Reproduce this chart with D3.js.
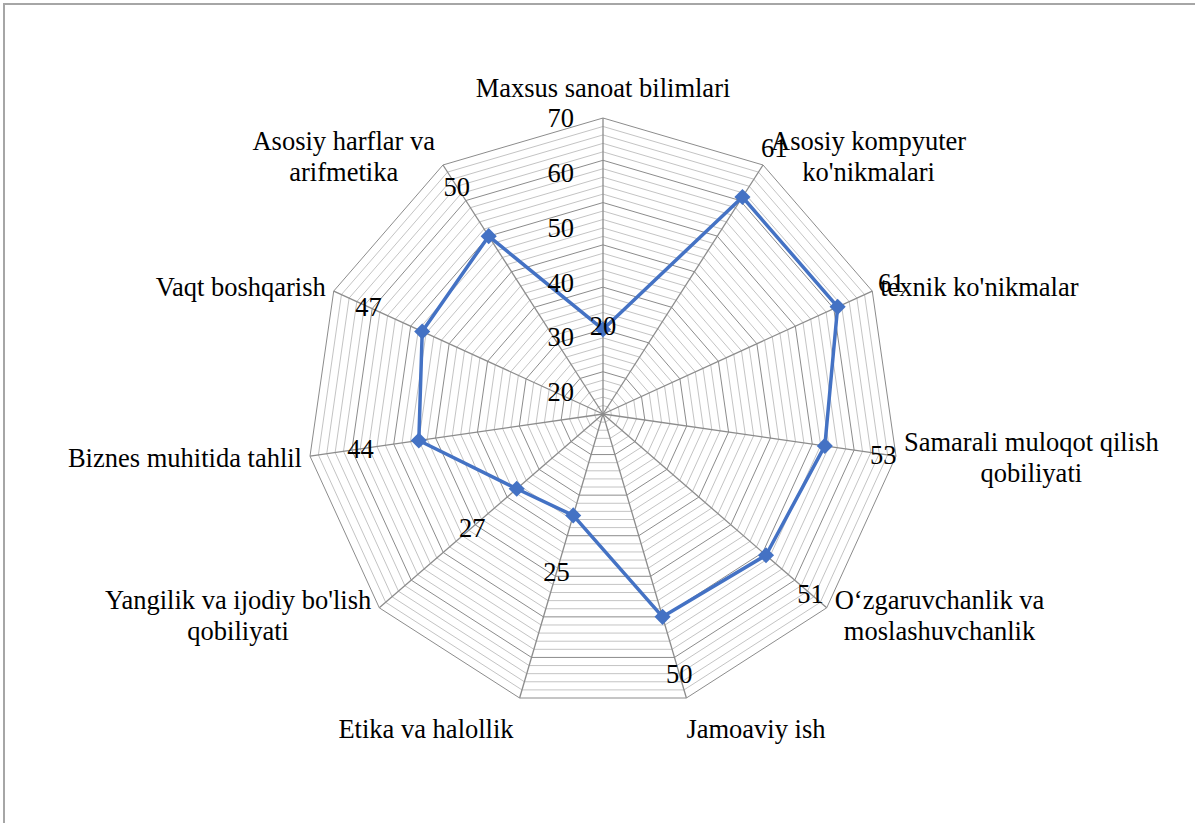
<!DOCTYPE html>
<html>
<head>
<meta charset="utf-8">
<script src="https://cdn.jsdelivr.net/npm/d3@7"></script>
<style>
  html, body { margin: 0; padding: 0; background: #fff; }
</style>
</head>
<body>
<div id="chart"></div>
<script>
// categories go clockwise from the top
const categories = [
    'Maxsus sanoat bilimlari',
    'Asosiy kompyuter\nko\'nikmalari',
    'texnik ko\'nikmalar',
    'Samarali muloqot qilish\nqobiliyati',
    'O‘zgaruvchanlik va\nmoslashuvchanlik',
    'Jamoaviy ish',
    'Etika va halollik',
    'Yangilik va ijodiy bo\'lish\nqobiliyati',
    'Biznes muhitida tahlil',
    'Vaqt boshqarish',
    'Asosiy harflar va\narifmetika'
];
const values = [20, 61, 61, 53, 51, 50, 25, 27, 44, 47, 50];
const tickValues = [20, 30, 40, 50, 60, 70];
const axisMax = 70;
const minorStep = 2;
const majorStep = 10;

const width = 1195, height = 823;
const cx = 603, cy = 414, R = 296;
const fontSize = 26.5, lineH = 31;
const serif = 'Liberation Serif';
const blue = '#4472C4';

const svg = d3.select('#chart').append('svg')
    .attr('width', width)
    .attr('height', height)
    .style('display', 'block');

svg.append('rect')
    .attr('x', 4).attr('y', 4)
    .attr('width', 1220).attr('height', 840)
    .attr('fill', '#fff')
    .attr('stroke', '#a6a6a6')
    .attr('stroke-width', 2);

const n = categories.length;
const r = d3.scaleLinear().domain([0, axisMax]).range([0, R]);
const angle = i => i * 2 * Math.PI / n;
const pt = (i, rad) => [cx + rad * Math.sin(angle(i)), cy - rad * Math.cos(angle(i))];

const g = svg.append('g');

// grid rings: minor first, then major on top
const rings = d3.range(minorStep, axisMax + 0.001, minorStep);
const ringPath = v => 'M' + d3.range(n).map(i => pt(i, r(v)).join(',')).join('L') + 'Z';

g.selectAll('.minor')
    .data(rings.filter(v => v % majorStep !== 0))
    .join('path')
    .attr('d', ringPath)
    .attr('fill', 'none')
    .attr('stroke', '#c4c4c4')
    .attr('stroke-width', 1);

g.selectAll('.major')
    .data(rings.filter(v => v % majorStep === 0))
    .join('path')
    .attr('d', ringPath)
    .attr('fill', 'none')
    .attr('stroke', '#8c8c8c')
    .attr('stroke-width', 1);

g.selectAll('.spoke')
    .data(d3.range(n))
    .join('line')
    .attr('x1', cx).attr('y1', cy)
    .attr('x2', i => pt(i, R)[0])
    .attr('y2', i => pt(i, R)[1])
    .attr('stroke', '#8c8c8c')
    .attr('stroke-width', 1.3);

// series
const line = d3.line().curve(d3.curveLinearClosed);
g.append('path')
    .attr('d', line(values.map((v, i) => pt(i, r(v)))))
    .attr('fill', 'none')
    .attr('stroke', blue)
    .attr('stroke-width', 3.5)
    .attr('stroke-linejoin', 'round');

g.selectAll('.marker')
    .data(values)
    .join('path')
    .attr('d', d3.symbol(d3.symbolSquare, 130))
    .attr('transform', (v, i) => `translate(${pt(i, r(v))}) rotate(45)`)
    .attr('fill', blue);

// category labels, placed beside each outer vertex
categories.forEach((label, i) => {
    const lines = label.split('\n');
    const [vx, vy] = pt(i, R);
    const s = Math.sin(angle(i)), c = Math.cos(angle(i));

    const t = svg.append('text')
        .attr('font-family', serif)
        .attr('font-size', fontSize)
        .attr('fill', '#000')
        .attr('text-anchor', 'middle');
    const spans = lines.map(l => t.append('tspan').text(l));
    const w = d3.max(spans, sp => sp.node().getComputedTextLength());
    const h = lines.length * lineH;

    let boxX, midY;
    if (Math.abs(s) > 0.5) {
        boxX = s > 0 ? vx + 8 + w / 2 : vx - 8 - w / 2;
        midY = vy - 11 * c;
    } else {
        boxX = Math.abs(s) < 0.1 ? vx : (s > 0 ? vx + w / 2 : vx - 6 - w / 2);
        midY = c > 0 ? vy - 15 - h / 2 : vy + 15 + h / 2;
    }
    spans.forEach((sp, k) => {
        sp.attr('x', boxX)
          .attr('y', midY - h / 2 + lineH * (k + 0.5))
          .attr('dy', '0.35em');
    });
});

// axis tick labels sit along the top spoke, spaced the way the original drew them
const tickPos = d3.scaleLinear().domain([tickValues[0], axisMax]).range([22, R]);
svg.selectAll('.tick')
    .data(tickValues)
    .join('text')
    .attr('x', cx - 29)
    .attr('y', v => cy - tickPos(v))
    .attr('dy', '0.35em')
    .attr('text-anchor', 'end')
    .attr('font-family', serif)
    .attr('font-size', fontSize)
    .attr('fill', '#000')
    .text(d => d);

// data labels, pushed outward from each point
svg.selectAll('.dlabel')
    .data(values)
    .join('text')
    .attr('x', (v, i) => pt(i, r(v) + (i === 0 ? 4 : 59))[0])
    .attr('y', (v, i) => pt(i, r(v) + (i === 0 ? 4 : 59))[1])
    .attr('dy', '0.35em')
    .attr('text-anchor', 'middle')
    .attr('font-family', serif)
    .attr('font-size', fontSize)
    .attr('fill', '#000')
    .text(d => d);
</script>
</body>
</html>
